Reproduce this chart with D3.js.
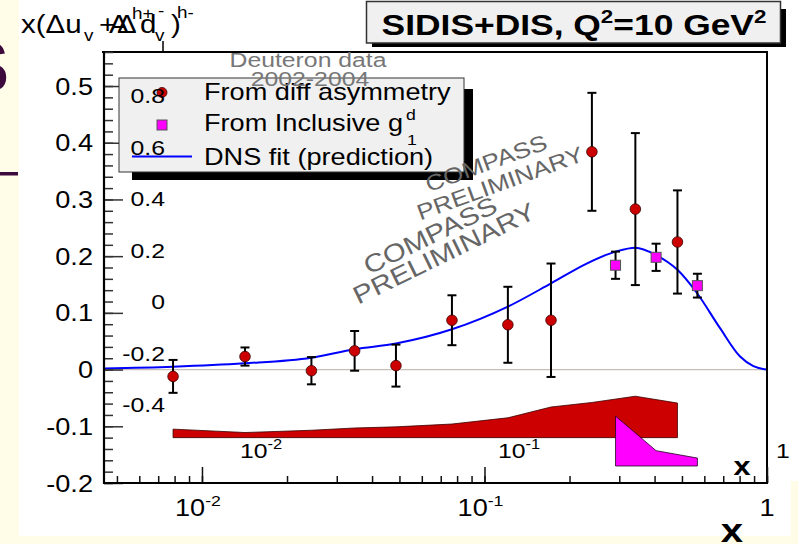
<!DOCTYPE html>
<html>
<head>
<meta charset="utf-8">
<script src="https://cdn.jsdelivr.net/npm/d3@7"></script>
<style>
  html, body { margin: 0; padding: 0; background: #ffffff; }
  svg { display: block; font-family: "Liberation Sans", Arial, Helvetica, sans-serif; }
</style>
</head>
<body>
<svg id="chart" width="798" height="544"></svg>
<script>
// ---- data: x(Δu_v + Δd_v) from the difference asymmetry ----
const diffX    = [0.0079, 0.0142, 0.0244, 0.0347, 0.0486, 0.0767, 0.121, 0.172, 0.240, 0.342, 0.482];
const diffY    = [-0.012, 0.023, -0.002, 0.033, 0.007, 0.087, 0.079, 0.087, 0.384, 0.283, 0.225];
const diffErr  = [0.029, 0.016, 0.024, 0.035, 0.037, 0.044, 0.067, 0.100, 0.104, 0.134, 0.091];
const diffSyst = [0.015, 0.009, 0.013, 0.017, 0.019, 0.024, 0.035, 0.054, 0.062, 0.073, 0.061];
const diffSystBase = -0.12;

// ---- data: from inclusive g1^d ----
const inclX    = [0.291, 0.405, 0.567];
const inclY    = [0.184, 0.198, 0.148];
const inclErr  = [0.024, 0.024, 0.021];
const inclSyst = [0.088, 0.027, 0.014];
const inclSystBase = -0.17;

// ---- DNS fit (prediction) ----
const fitX = [0.0045, 0.0079, 0.0141, 0.0244, 0.0347, 0.0486, 0.0767, 0.121, 0.172, 0.230, 0.291, 0.342, 0.405, 0.482, 0.565, 0.682, 0.803, 0.895, 1.0];
const fitY = [0.002, 0.005, 0.011, 0.021, 0.036, 0.046, 0.071, 0.111, 0.152, 0.187, 0.208, 0.215, 0.202, 0.176, 0.135, 0.073, 0.023, 0.006, 0.0];

// ---- axes ----
const yMajorTicks = [-0.2, -0.1, 0, 0.1, 0.2, 0.3, 0.4, 0.5];
const yMajorLabels = ["-0.2", "-0.1", "0", "0.1", "0.2", "0.3", "0.4", "0.5"];
const xMajorTicks = [0.01, 0.1, 1];
const xMajorBase = ["10", "10", "1"];
const xMajorExp = ["-2", "-1", ""];

// underlying asymmetry axis labels
const ghostYTicks = [-0.4, -0.2, 0, 0.2, 0.4, 0.6, 0.8];
const ghostYLabels = ["-0.4", "-0.2", "0", "0.2", "0.4", "0.6", "0.8"];
const ghostXTicks = [0.01, 0.1, 1];

const legendLabels = ["From diff asymmetry", "From Inclusive g", "DNS fit (prediction)"];
const titleMain = "SIDIS+DIS, Q";
const titleMid = "=10 GeV";

const SX = 1.18; // horizontal stretch of lettering
const RED = "#cc0000", MAG = "#ff00ff", BLUE = "#0000ff";

const svg = d3.select("#chart");

// page background pieces
svg.append("rect").attr("x", 0).attr("y", 0).attr("width", 798).attr("height", 544).attr("fill", "#ffffff");
svg.append("rect").attr("x", 0).attr("y", 0).attr("width", 19).attr("height", 544).attr("fill", "#fffde8");
svg.append("rect").attr("x", 0).attr("y", 536).attr("width", 798).attr("height", 8).attr("fill", "#fffde8");
svg.append("rect").attr("x", 791).attr("y", 481).attr("width", 7).attr("height", 63).attr("fill", "#fffde8");
const edgeClip = svg.append("clipPath").attr("id", "edgeclip");
edgeClip.append("rect").attr("x", 0).attr("y", 0).attr("width", 19).attr("height", 544);
svg.append("text").attr("clip-path", "url(#edgeclip)")
  .attr("x", -39).attr("y", 92).attr("font-size", 72).attr("font-weight", "bold")
  .attr("fill", "#3c0a3c").text("S");
svg.append("rect").attr("x", 0).attr("y", 172).attr("width", 18).attr("height", 3.5).attr("fill", "#3c0a3c");

// helper for stretched text
function label(g, str, px, py, size, opts = {}) {
  const t = g.append("text")
    .attr("transform", `translate(${px},${py}) scale(${SX},1)`)
    .attr("font-size", size)
    .attr("fill", opts.fill || "#000")
    .attr("text-anchor", opts.anchor || "start")
    .attr("font-weight", opts.weight || "normal");
  if (str !== null) t.text(str);
  return t;
}

// scales
const x = d3.scaleLog().domain([0.0045, 1]).range([104, 767]);
const y = d3.scaleLinear().domain([-0.2, 0.56]).range([483, 52]);

const plot = svg.append("g");

// zero line
plot.append("line")
  .attr("x1", x.range()[0]).attr("x2", x.range()[1])
  .attr("y1", y(0)).attr("y2", y(0))
  .attr("stroke", "#c8beb6").attr("stroke-width", 1.2);

// systematic bands
const bandArea = (xs, tops, base) => {
  const pts = xs.map((v, i) => [x(v), y(base + tops[i])]);
  const bottom = [[x(xs[xs.length - 1]), y(base)], [x(xs[0]), y(base)]];
  return "M" + pts.concat(bottom).map(p => p.join(",")).join("L") + "Z";
};
plot.append("path").attr("d", bandArea(diffX, diffSyst, diffSystBase))
  .attr("fill", RED).attr("stroke", "#3a0000").attr("stroke-width", 0.8);
plot.append("path").attr("d", bandArea(inclX, inclSyst, inclSystBase))
  .attr("fill", MAG).attr("stroke", "#200020").attr("stroke-width", 0.8);

// fit curve
const line = d3.line().x(d => x(d[0])).y(d => y(d[1])).curve(d3.curveMonotoneX);
plot.append("path").datum(fitX.map((v, i) => [v, fitY[i]]))
  .attr("d", line).attr("fill", "none").attr("stroke", BLUE).attr("stroke-width", 2);

// error bars
function errorBars(xs, ys, es) {
  const g = plot.append("g").attr("stroke", "#000").attr("stroke-width", 2);
  xs.forEach((v, i) => {
    const cx = x(v), y1 = y(ys[i] + es[i]), y2 = y(ys[i] - es[i]);
    g.append("line").attr("x1", cx).attr("x2", cx).attr("y1", y1).attr("y2", y2);
    g.append("line").attr("x1", cx - 4.5).attr("x2", cx + 4.5).attr("y1", y1).attr("y2", y1);
    g.append("line").attr("x1", cx - 4.5).attr("x2", cx + 4.5).attr("y1", y2).attr("y2", y2);
  });
}
errorBars(diffX, diffY, diffErr);
errorBars(inclX, inclY, inclErr);

plot.append("g").selectAll("circle").data(diffX).join("circle")
  .attr("cx", d => x(d)).attr("cy", (d, i) => y(diffY[i])).attr("r", 5.3)
  .attr("fill", RED).attr("stroke", "#3a0000").attr("stroke-width", 0.8);
plot.append("g").selectAll("rect").data(inclX).join("rect")
  .attr("x", d => x(d) - 5).attr("y", (d, i) => y(inclY[i]) - 5)
  .attr("width", 10).attr("height", 10)
  .attr("fill", MAG).attr("stroke", "#555").attr("stroke-width", 1);

// frame
const frame = svg.append("g").attr("stroke", "#000").attr("fill", "none");
frame.append("line").attr("x1", 102).attr("x2", 768).attr("y1", 52).attr("y2", 52).attr("stroke-width", 2);
frame.append("line").attr("x1", 767).attr("x2", 767).attr("y1", 51).attr("y2", 484).attr("stroke-width", 2);

// y axis
const yMinor = svg.append("g").attr("transform", "translate(104,0)")
  .call(d3.axisRight(y).tickValues(y.ticks(38)).tickSize(9).tickFormat(""));
const yMajor = svg.append("g").attr("transform", "translate(104,0)")
  .call(d3.axisRight(y).tickValues(yMajorTicks).tickSize(19).tickFormat(""));
[yMinor, yMajor].forEach(g => {
  g.selectAll(".tick line").attr("stroke", "#333").attr("stroke-width", 1.5);
  g.select(".domain").remove();
});
svg.append("line").attr("x1", 104).attr("x2", 104).attr("y1", 51).attr("y2", 484)
  .attr("stroke", "#000").attr("stroke-width", 2.2);

// x axis
const xMinor = svg.append("g").attr("transform", "translate(0,483)")
  .call(d3.axisTop(x).tickValues(x.ticks().filter(v => v >= 0.0045 && v <= 1)).tickSize(7).tickFormat(""));
const xMajor = svg.append("g").attr("transform", "translate(0,483)")
  .call(d3.axisTop(x).tickValues(xMajorTicks).tickSize(16).tickFormat(""));
[xMinor, xMajor].forEach(g => {
  g.selectAll(".tick line").attr("stroke", "#111").attr("stroke-width", 1.5);
  g.select(".domain").remove();
});
svg.append("line").attr("x1", 103).attr("x2", 768).attr("y1", 483).attr("y2", 483)
  .attr("stroke", "#000").attr("stroke-width", 2.2);

// axis labels
const axisText = svg.append("g");
yMajorTicks.forEach((v, i) => label(axisText, yMajorLabels[i], 93, y(v) + 8.5, 23, { anchor: "end" }));
xMajorTicks.forEach((v, i) => {
  const t = label(axisText, null, x(v) + (xMajorExp[i] ? -4 : 0), 516, 23, { anchor: "middle" });
  t.append("tspan").text(xMajorBase[i]);
  if (xMajorExp[i]) t.append("tspan").attr("dy", -10).attr("font-size", 15).text(xMajorExp[i]);
});
label(axisText, "x", 732, 542, 34, { anchor: "middle", weight: "bold" });

// legend
const leg = svg.append("g");
leg.append("rect").attr("x", 132).attr("y", 89).attr("width", 341).attr("height", 91).attr("fill", "#000");
leg.append("rect").attr("x", 119).attr("y", 78).attr("width", 345).attr("height", 94)
  .attr("fill", "#f0f0f0").attr("stroke", "#333").attr("stroke-width", 1);
leg.append("circle").attr("cx", 162).attr("cy", 92.5).attr("r", 5).attr("fill", RED)
  .attr("stroke", "#3a0000").attr("stroke-width", 0.8);
leg.append("rect").attr("x", 157).attr("y", 120).attr("width", 10).attr("height", 10)
  .attr("fill", MAG).attr("stroke", "#555").attr("stroke-width", 1);
leg.append("line").attr("x1", 132).attr("x2", 192).attr("y1", 156.5).attr("y2", 156.5)
  .attr("stroke", BLUE).attr("stroke-width", 2);
label(leg, legendLabels[0], 204, 100, 23);
label(leg, legendLabels[1], 204, 130.5, 23);
label(leg, "d", 406, 120, 15);
label(leg, "1", 407, 145, 15);
label(leg, legendLabels[2], 204, 164.5, 23);

// title box
const tb = svg.append("g");
tb.append("rect").attr("x", 372).attr("y", 9).attr("width", 414).attr("height", 38).attr("fill", "#000");
tb.append("rect").attr("x", 366.5).attr("y", 1.5).attr("width", 414).attr("height", 41.5)
  .attr("fill", "#f0f0f0").attr("stroke", "#333").attr("stroke-width", 1.5);
const tt = label(tb, null, 574, 35, 30, { anchor: "middle", weight: "bold" });
tt.append("tspan").text(titleMain);
tt.append("tspan").attr("dy", -12).attr("font-size", 19).text("2");
tt.append("tspan").attr("dy", 12).text(titleMid);
tt.append("tspan").attr("dy", -12).attr("font-size", 19).text("2");

// preliminary stamps
const stamp = svg.append("g").attr("fill", "#666");
function stampText(str, cx, cy, angle, size) {
  stamp.append("text")
    .attr("transform", `translate(${cx},${cy}) rotate(${angle}) scale(${SX},1)`)
    .attr("font-size", size).attr("text-anchor", "middle").attr("dy", "0.36em")
    .text(str);
}
stampText("COMPASS", 486, 163, -20, 22);
stampText("PRELIMINARY", 500, 183, -20, 22);
stampText("COMPASS", 430, 235, -26, 25);
stampText("PRELIMINARY", 444, 253, -26, 25);

// underlying asymmetry-plot lettering
const gy = d3.scaleLinear().domain([-0.4, 0.8]).range([412, 103]);
const gx = d3.scaleLog().domain([0.01, 1]).range([264, 780]);
const ghost = svg.append("g");
ghostYTicks.forEach((v, i) => label(ghost, ghostYLabels[i], 165, gy(v), 21, { anchor: "end" }));
ghostXTicks.forEach((v, i) => {
  const t = label(ghost, null, gx(v) + (xMajorExp[i] ? -3 : 3), 458, 21, { anchor: "middle" });
  t.append("tspan").text(xMajorBase[i]);
  if (xMajorExp[i]) t.append("tspan").attr("dy", -9).attr("font-size", 14).text(xMajorExp[i]);
});
label(ghost, "x", 742, 475, 26, { anchor: "middle", weight: "bold" });
label(ghost, "Deuteron data", 308, 67, 21, { anchor: "middle", fill: "#777" });
label(ghost, "2002-2004", 310, 86, 21, { anchor: "middle", fill: "#777" });

// y-axis title
const yt = svg.append("g");
label(yt, "x(Δu", 21, 33, 25);
label(yt, "v", 84, 41, 16);
label(yt, "+", 99, 33, 25);
label(yt, "A", 109, 33, 25);
label(yt, "Δ", 117, 33, 25);
label(yt, "d", 140, 33, 25);
label(yt, "v", 155, 41, 16);
label(yt, ")", 171, 33, 25);
label(yt, "h+", 132, 19, 16);
label(yt, "-", 158, 16, 16);
label(yt, "h-", 177, 18, 16);
yt.append("line").attr("x1", 163).attr("x2", 163).attr("y1", 41).attr("y2", 52)
  .attr("stroke", "#000").attr("stroke-width", 1.5);
</script>
</body>
</html>
